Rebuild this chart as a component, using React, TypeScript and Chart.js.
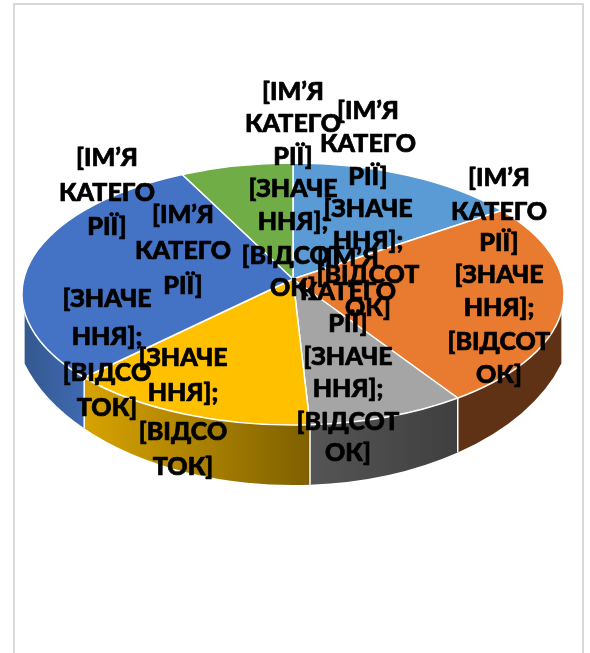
import React, { useEffect, useRef } from "react";
import { Chart, registerables } from "chart.js";

Chart.register(...registerables);

const categories = ["Кв. 1", "Кв. 2", "Кв. 3", "Кв. 4", "Кв. 5", "Кв. 6"];
const values = [14, 25.6, 9.4, 15, 29.3, 6.7];
const topColors = ["#5B9BD5", "#E97B30", "#A5A5A5", "#FFC000", "#4472C4", "#70AD47"];
const sideLeft = ["#3A6E9C", "#5F3216", "#555555", "#D8A300", "#34588F", "#41682A"];
const sideRight = ["#3A6E9C", "#5F3216", "#3F3F3F", "#7F6000", "#3F69B2", "#41682A"];

const nameLines = ["[ІМ’Я", "КАТЕГО", "РІЇ]"];
const valueLines = ["[ЗНАЧЕ", "ННЯ];"];
const percentWide = ["[ВІДСОТ", "ОК]"];
const percentNarrow = ["[ВІДСО", "ТОК]"];

const labelLayout = [
  { lines: [...nameLines, ...valueLines, ...percentWide], x: 368, ys: [111, 144, 177, 209, 241, 275, 308] },
  { lines: [...nameLines, ...valueLines, ...percentWide], x: 499, ys: [178, 212, 243, 275, 308, 342, 375] },
  { lines: [...nameLines, ...valueLines, ...percentWide], x: 348, ys: [258, 292, 324, 357, 389, 422, 453] },
  { lines: [...nameLines, ...valueLines, ...percentNarrow], x: 183, ys: [215, 251, 286, 358, 393, 432, 467] },
  { lines: [...nameLines, ...valueLines, ...percentNarrow], x: 107, ys: [158, 193, 227, 299, 337, 373, 408] },
  { lines: [...nameLines, ...valueLines, ...percentWide], x: 293, ys: [92, 124, 157, 189, 222, 256, 288] },
];

const SQUASH = 131 / 271;
const APEX_SHIFT = -15;
const RIM_MIN = (8 * Math.PI) / 180;
const RIM_MAX = (172 * Math.PI) / 180;
const BOTTOM = { cy: 315, rx: 280, ry: 170 };
const FONT = "900 25px Lato, 'Noto Sans', sans-serif";

const pie3d = {
  id: "pie3d",
  beforeDraw(chart: any) {
    const ctx = chart.ctx;
    ctx.save();
    ctx.fillStyle = "#ffffff";
    ctx.fillRect(0, 0, chart.width, chart.height);
    ctx.strokeStyle = "#D9D9D9";
    ctx.lineWidth = 2;
    ctx.strokeRect(14, 4, 569, 700);
    ctx.restore();
  },
  beforeDatasetDraw(chart: any) {
    const ctx = chart.ctx;
    const arcs = chart.getDatasetMeta(0).data;
    const cx = arcs[0].x;
    const cy = arcs[0].y;
    const rx = arcs[0].outerRadius;
    const ry = rx * SQUASH;
    const bottomAt = (t: number) => Math.acos(Math.max(-1, Math.min(1, (rx * Math.cos(t)) / BOTTOM.rx)));

    arcs.forEach((arc: any, i: number) => {
      const a = Math.max(arc.startAngle, RIM_MIN);
      const b = Math.min(arc.endAngle, RIM_MAX);
      if (b <= a) return;
      const xa = cx + rx * Math.cos(a);
      const xb = cx + rx * Math.cos(b);
      const g = ctx.createLinearGradient(Math.min(xa, xb), 0, Math.max(xa, xb), 0);
      g.addColorStop(0, sideLeft[i]);
      g.addColorStop(1, sideRight[i]);
      ctx.beginPath();
      ctx.ellipse(cx, cy, rx, ry, 0, a, b);
      ctx.ellipse(cx, BOTTOM.cy, BOTTOM.rx, BOTTOM.ry, 0, bottomAt(b), bottomAt(a), true);
      ctx.closePath();
      ctx.fillStyle = g;
      ctx.fill();
    });

    ctx.strokeStyle = "#ffffff";
    ctx.lineWidth = 1.5;
    arcs.forEach((arc: any) => {
      const t = arc.endAngle;
      if (t <= RIM_MIN || t >= RIM_MAX) return;
      const tb = bottomAt(t);
      ctx.beginPath();
      ctx.moveTo(cx + rx * Math.cos(t), cy + ry * Math.sin(t));
      ctx.lineTo(cx + BOTTOM.rx * Math.cos(tb), BOTTOM.cy + BOTTOM.ry * Math.sin(tb));
      ctx.stroke();
    });

    arcs.forEach((arc: any, i: number) => {
      ctx.beginPath();
      ctx.moveTo(cx, cy + APEX_SHIFT);
      ctx.ellipse(cx, cy, rx, ry, 0, arc.startAngle, arc.endAngle);
      ctx.closePath();
      ctx.fillStyle = topColors[i];
      ctx.fill();
      ctx.strokeStyle = "#ffffff";
      ctx.lineWidth = 1.5;
      ctx.lineJoin = "round";
      ctx.stroke();
    });
    return false;
  },
  afterDatasetsDraw(chart: any) {
    const ctx = chart.ctx;
    ctx.save();
    ctx.fillStyle = "#000000";
    ctx.strokeStyle = "#000000";
    ctx.lineWidth = 0.7;
    ctx.lineJoin = "round";
    ctx.font = FONT;
    ctx.textAlign = "center";
    ctx.textBaseline = "middle";
    labelLayout.forEach((label) => {
      label.lines.forEach((line, k) => {
        ctx.fillText(line, label.x, label.ys[k]);
        ctx.strokeText(line, label.x, label.ys[k]);
      });
    });
    ctx.restore();
  },
};

export default function App() {
  const ref = useRef<HTMLCanvasElement>(null);
  useEffect(() => {
    document.body.style.margin = "0";
    const chart = new Chart(ref.current as HTMLCanvasElement, {
      type: "pie",
      data: {
        labels: categories,
        datasets: [{ data: values, backgroundColor: topColors, borderWidth: 0 }],
      },
      options: {
        responsive: false,
        animation: false,
        layout: { padding: { left: 22, right: 26, top: 23, bottom: 88 } },
        plugins: { legend: { display: false }, tooltip: { enabled: false } },
      },
      plugins: [pie3d],
    } as any);
    return () => chart.destroy();
  }, []);
  return <canvas ref={ref} width={590} height={653} style={{ display: "block" }} />;
}
